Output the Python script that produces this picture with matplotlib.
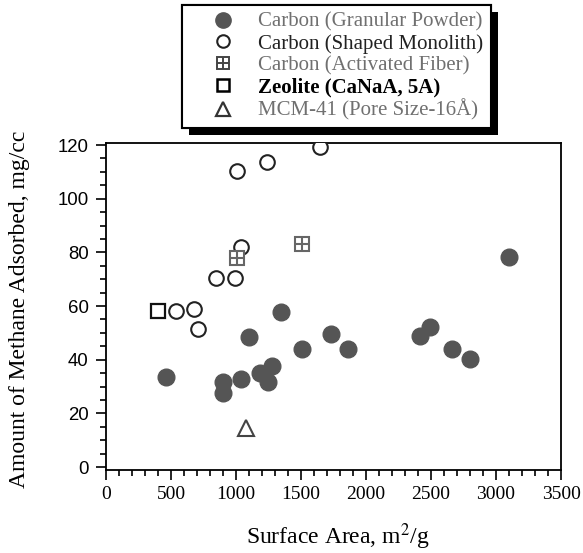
import matplotlib
matplotlib.use("Agg")
import matplotlib.pyplot as plt
import matplotlib.patheffects as pe
from matplotlib.lines import Line2D
from matplotlib.legend_handler import HandlerTuple
from matplotlib.ticker import MultipleLocator

plt.rcParams["mathtext.fontset"] = "stix"

# data (surface area m2/g, methane mg/cc)
granular_x = [459, 903, 903, 1036, 1100, 1185, 1249, 1274, 1346, 1505, 1731, 1860, 2415, 2492, 2664, 2800, 3100]
granular_y = [33.4, 31.8, 27.5, 32.8, 48.3, 34.9, 31.6, 37.8, 57.9, 43.9, 49.7, 43.9, 48.9, 52.3, 43.9, 40.3, 78.2]
monolith_x = [535, 679, 705, 846, 995, 1005, 1036, 1241, 1646]
monolith_y = [58.1, 58.8, 51.4, 70.6, 70.6, 110.4, 81.9, 113.8, 119.2]
fiber_x = [1005, 1505]
fiber_y = [77.8, 83.0]
zeolite_x = [403]
zeolite_y = [58.1]
mcm_x = [1074]
mcm_y = [14.6]

labels = ["Carbon (Granular Powder)", "Carbon (Shaped Monolith)", "Carbon (Activated Fiber)",
          "Zeolite (CaNaA, 5A)", "MCM-41 (Pore Size-16Å)"]
label_colors = ["#707070", "#222222", "#707070", "#000000", "#707070"]

serif = "Liberation Serif"
sans = "Liberation Sans"
grey = "#555555"

fig = plt.figure(figsize=(5.83, 5.53), dpi=100)
ax = fig.add_axes([0.1818, 0.150, 0.7805, 0.5914])

ax.plot(granular_x, granular_y, "o", ms=12, color=grey, mec=grey, zorder=3)
ax.plot(monolith_x, monolith_y, "o", ms=10.5, mfc="white", mec="#222222", mew=1.5, zorder=3)
ax.plot(fiber_x, fiber_y, "s", ms=10, mfc="white", mec="#666666", mew=1.5, zorder=3)
ax.plot(fiber_x, fiber_y, "+", ms=10, mec="#666666", mew=1.5, zorder=4)
ax.plot(zeolite_x, zeolite_y, "s", ms=10, mfc="white", mec="#111111", mew=1.6, zorder=3)
ax.plot(mcm_x, mcm_y, "^", ms=12, mfc="white", mec="#444444", mew=1.5, zorder=3)

ax.set_xlim(0, 3500)
ax.set_ylim(-1.1, 120.75)
ax.xaxis.set_major_locator(MultipleLocator(500))
ax.xaxis.set_minor_locator(MultipleLocator(100))
ax.yaxis.set_major_locator(MultipleLocator(20))
ax.yaxis.set_minor_locator(MultipleLocator(5))
ax.tick_params(which="major", direction="out", length=7.5, width=1.2, top=False, right=False)
ax.tick_params(which="minor", direction="out", length=4.3, width=1.2, top=False, right=False)
ax.tick_params(axis="x", pad=4)
ax.tick_params(axis="y", pad=5)
for s in ax.spines.values():
    s.set_linewidth(1.3)

for t in ax.get_xticklabels():
    t.set_fontfamily(serif)
    t.set_fontsize(14)
for t in ax.get_yticklabels():
    t.set_fontfamily(sans)
    t.set_fontsize(13.4)

ax.set_xlabel("Surface Area, m$^2$/g", fontfamily=serif, fontsize=17, va="center")
ax.xaxis.set_label_coords(0.509, -0.205)
ax.set_ylabel("Amount of Methane Adsorbed, mg/cc", fontfamily=serif, fontsize=17, va="center")
ax.yaxis.set_label_coords(-0.19, 0.49)

# legend
lm = 9
handles = [
    Line2D([], [], ls="", marker="o", ms=11, color=grey),
    Line2D([], [], ls="", marker="o", ms=lm, mfc="white", mec="#222222", mew=1.5),
    (Line2D([], [], ls="", marker="s", ms=lm, mfc="white", mec="#444444", mew=1.4),
     Line2D([], [], ls="", marker="+", ms=lm, mec="#444444", mew=1.4)),
    Line2D([], [], ls="", marker="s", ms=lm, mfc="white", mec="#000000", mew=1.8),
    Line2D([], [], ls="", marker="^", ms=10, mfc="white", mec="#333333", mew=1.6),
]
leg = fig.legend(handles, labels, loc="upper left", bbox_to_anchor=(0.312, 0.991),
                 prop={"family": serif, "size": 15}, frameon=True, fancybox=False,
                 facecolor="white", framealpha=1, edgecolor="black",
                 labelspacing=0.1, handlelength=3.25, handletextpad=0.06,
                 borderpad=0.35, borderaxespad=0,
                 handler_map={tuple: HandlerTuple(ndivide=1)})
leg.get_frame().set_linewidth(1.5)
leg.get_frame().set_path_effects([pe.withSimplePatchShadow(offset=(5, -5), shadow_rgbFace="black", alpha=1.0),
                                  pe.Normal()])
for t, c in zip(leg.get_texts(), label_colors):
    t.set_color(c)
leg.get_texts()[3].set_fontweight("bold")

fig.savefig("out.png", dpi=100)
